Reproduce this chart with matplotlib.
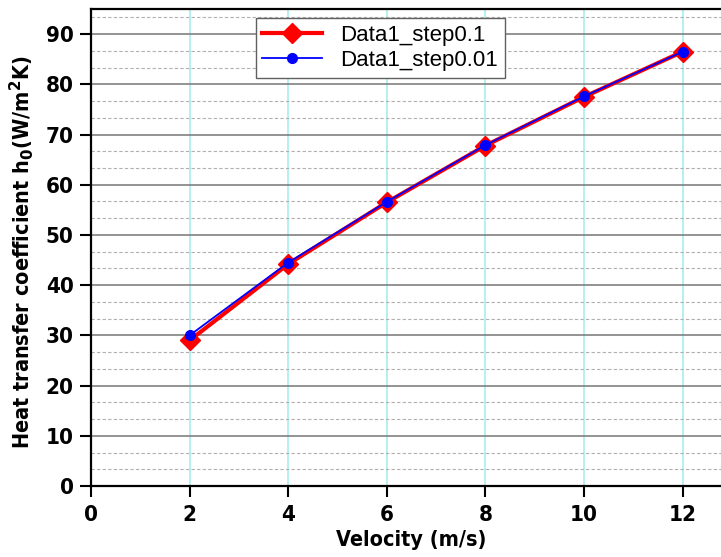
import matplotlib
matplotlib.use('Agg')
import matplotlib.pyplot as plt
from matplotlib import font_manager
from matplotlib.ticker import MultipleLocator

# Données
vitesse = [2, 4, 6, 8, 10, 12]
h_step01 = [29.0, 44.2, 56.5, 67.8, 77.5, 86.5]
h_step001 = [30.0, 44.5, 56.6, 67.9, 77.6, 86.5]
x_ticks = [0, 2, 4, 6, 8, 10, 12]
y_ticks = [0, 10, 20, 30, 40, 50, 60, 70, 80, 90]

# Police étroite si disponible
etroites = [f for f in font_manager.fontManager.ttflist
            if ('narrow' in f.fname.lower() or 'condensed' in f.fname.lower())
            and f.weight in (700, 'bold')]
if etroites:
    police = dict(fname=etroites[0].fname)
else:
    police = dict(family='Liberation Sans', weight='bold')
fp = font_manager.FontProperties(**police, size=16)
fp_lab = font_manager.FontProperties(**police, size=15.5)

fig = plt.figure(figsize=(7.21, 5.57), dpi=100)
ax = fig.add_axes([91/721, 71/557, 641/721, 477/557])

ax.plot(vitesse, h_step01, color='red', lw=3, marker='D', ms=10,
        mec='red', label='Data1_step0.1', zorder=3)
ax.plot(vitesse, h_step001, color='blue', lw=1.3, marker='o', ms=7,
        label='Data1_step0.01', zorder=4)

ax.set_xlim(0, 13)
ax.set_ylim(0, 95)
ax.set_xticks(x_ticks)
ax.set_yticks(y_ticks)
ax.yaxis.set_minor_locator(MultipleLocator(10/3))

# Grilles
ax.grid(True, axis='x', which='major', color='#a8eeee', lw=1.2, zorder=0)
ax.grid(True, axis='y', which='major', color='#808080', lw=1.2, zorder=0)
ax.grid(True, axis='y', which='minor', color='#b0b0b0', lw=0.8, ls=(0, (3, 2)), zorder=0)
ax.set_axisbelow(True)

for s in ['left', 'bottom', 'top']:
    ax.spines[s].set_linewidth(1.6)
ax.spines['right'].set_visible(False)

ax.tick_params(axis='both', which='major', direction='out', length=8, width=1.5)
ax.tick_params(axis='x', which='major', pad=5.5)
ax.tick_params(axis='y', which='major', pad=4.5)
ax.tick_params(axis='y', which='minor', length=0)
for lab in ax.get_xticklabels() + ax.get_yticklabels():
    lab.set_fontproperties(fp)

ax.set_xlabel('Velocity (m/s)', fontproperties=fp_lab, labelpad=4)
ax.set_ylabel(r'Heat transfer coefficient h$_\mathbf{0}$(W/m$^\mathbf{2}$K)',
              fontproperties=fp_lab)
ax.yaxis.set_label_coords(-0.086, 0.49)

leg = ax.legend(loc='upper left', bbox_to_anchor=(0.257, 0.981), frameon=True,
                borderaxespad=0, fancybox=False, edgecolor='#606060', framealpha=1,
                prop={'family': 'Liberation Sans', 'size': 16},
                handlelength=2.7, borderpad=0.3, labelspacing=0.2)
leg.get_frame().set_linewidth(1.0)

fig.savefig('out.png', dpi=100)
